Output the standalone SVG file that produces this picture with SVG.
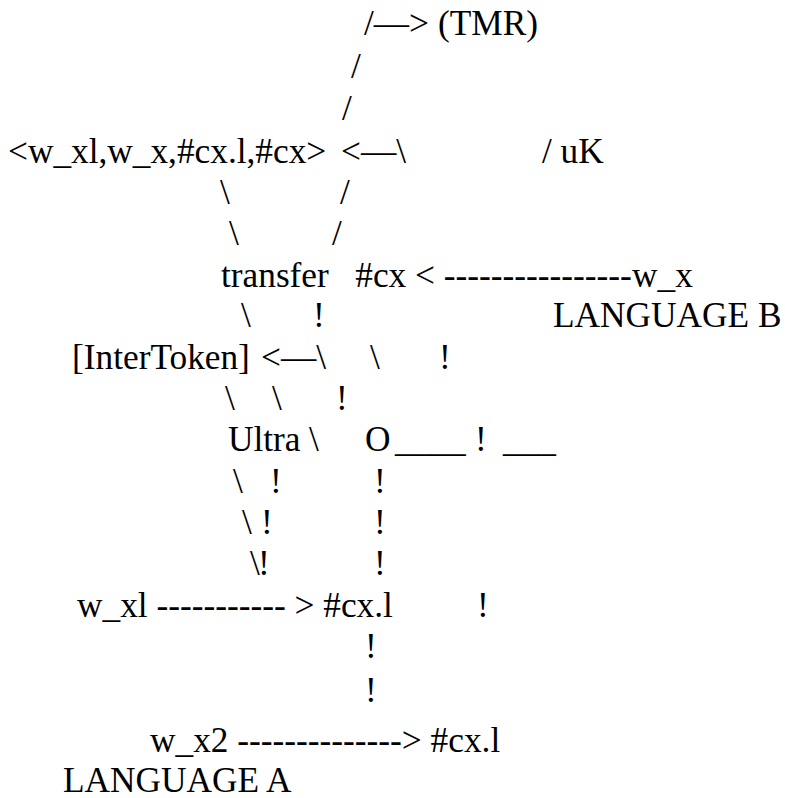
<svg xmlns="http://www.w3.org/2000/svg" width="785" height="798" viewBox="0 0 785 798">
  <style>
    text { font-family: "Liberation Serif", "Times New Roman", serif; font-size: 35.3px; fill: #000; white-space: pre; }
  </style>
  <rect width="785" height="798" fill="#fff"/>

  <!-- connectors: slashes, dashes, bangs and arrow heads typed as characters -->
  <g id="connectors">
    <text x="364" y="35">/—&gt;</text>
    <text x="351" y="77.5">/</text>
    <text x="342" y="120">/</text>
    <text x="341" y="163">&lt;—\</text>
    <text x="542" y="163">/</text>
    <text x="220" y="204">\</text>
    <text x="340" y="204">/</text>
    <text x="229" y="245">\</text>
    <text x="332" y="245">/</text>
    <text x="415" y="286.5">&lt; ----------------</text>
    <text x="241" y="327">\</text>
    <text x="313" y="327">!</text>
    <text x="261" y="368.5">&lt;—\</text>
    <text x="370" y="368.5">\</text>
    <text x="439" y="368.5">!</text>
    <text x="225" y="409.5">\</text>
    <text x="272" y="409.5">\</text>
    <text x="336" y="409.5">!</text>
    <text x="309" y="451">\</text>
    <text x="395" y="451">____</text>
    <text x="475" y="451">!</text>
    <text x="503" y="451">___</text>
    <text x="233" y="492.5">\</text>
    <text x="270" y="492.5">!</text>
    <text x="374" y="492.5">!</text>
    <text x="242" y="533.5">\</text>
    <text x="261" y="533.5">!</text>
    <text x="374" y="533.5">!</text>
    <text x="250" y="574.5">\</text>
    <text x="258" y="574.5">!</text>
    <text x="374" y="574.5">!</text>
    <text x="156.4" y="616.7">----------- &gt;</text>
    <text x="477" y="616.7">!</text>
    <text x="365" y="658">!</text>
    <text x="365" y="701.5">!</text>
    <text x="237.3" y="752">--------------&gt;</text>
  </g>

  <!-- labelled nodes -->
  <g id="tmr"><text x="438" y="35">(TMR)</text></g>
  <g id="tuple"><text x="8" y="163">&lt;w_xl,w_x,#cx.l,#cx&gt;</text></g>
  <g id="uk"><text x="560.6" y="163">uK</text></g>
  <g id="transfer"><text x="221" y="286.5">transfer</text></g>
  <g id="cx-b"><text x="355.3" y="286.5">#cx</text></g>
  <g id="wx-b"><text x="632" y="286.5">w_x</text></g>
  <g id="language-b"><text x="553" y="327">LANGUAGE B</text></g>
  <g id="intertoken"><text x="72" y="368.5">[InterToken]</text></g>
  <g id="ultra"><text x="228" y="451">Ultra</text></g>
  <g id="o"><text x="365" y="451">O</text></g>
  <g id="wxl-a"><text x="77" y="616.7">w_xl</text></g>
  <g id="cxl-1"><text x="323.3" y="616.7">#cx.l</text></g>
  <g id="wx2-a"><text x="150" y="752">w_x2</text></g>
  <g id="cxl-2"><text x="430.6" y="752">#cx.l</text></g>
  <g id="language-a"><text x="63" y="792">LANGUAGE A</text></g>
</svg>
